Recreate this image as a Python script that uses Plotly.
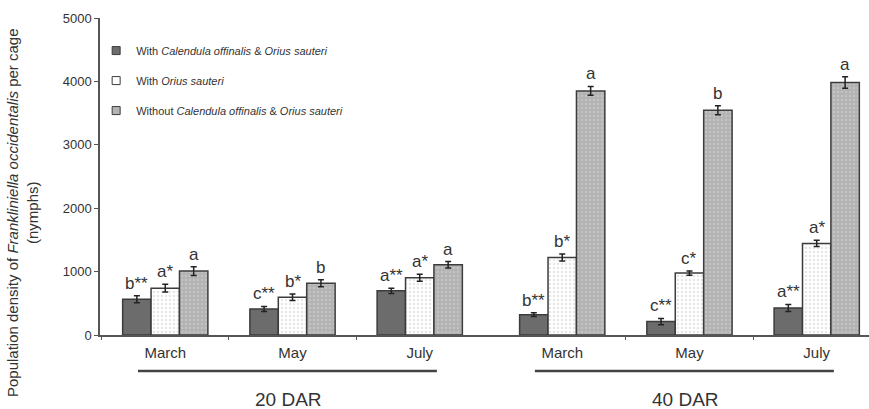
import plotly.graph_objects as go

# Sampling months within each DAR block
months = ["March", "May", "July", "March", "May", "July"]
blocks = ["20 DAR", "40 DAR"]

# Mean nymph counts per cage for each treatment
calendula_orius = [565, 411, 696, 321, 211, 427]
orius_only = [739, 596, 902, 1223, 976, 1445]
control = [1008, 818, 1108, 3850, 3544, 3982]

# Standard errors
err_calendula_orius = [55, 40, 40, 30, 50, 55]
err_orius_only = [60, 50, 55, 55, 35, 50]
err_control = [70, 55, 50, 70, 70, 90]

# Significance letters
lab_calendula_orius = ["b**", "c**", "a**", "b**", "c**", "a**"]
lab_orius_only = ["a*", "b*", "a*", "b*", "c*", "a*"]
lab_control = ["a", "b", "a", "a", "b", "a"]

legend_names = [
    "With <i>Calendula offinalis</i> &amp; <i>Orius sauteri</i>",
    "With <i>Orius sauteri</i>",
    "Without <i>Calendula offinalis</i> &amp; <i>Orius sauteri</i>",
]

FONT = "Liberation Sans, Arial, sans-serif"
TXT = "#333333"
EDGE = "#3c3c3c"

# x positions of the month groups: two blocks of three, with a small gap between blocks
block_gap = 0.12
xpos = [i + (block_gap if i >= 3 else 0) for i in range(len(months))]
bargap = 0.33
bar_w = (1 - bargap) / 3

series = [
    (calendula_orius, err_calendula_orius, lab_calendula_orius,
     dict(color="#6c6c6c", line=dict(color=EDGE, width=1.5))),
    (orius_only, err_orius_only, lab_orius_only,
     dict(color="#ffffff", line=dict(color=EDGE, width=1.5),
          pattern=dict(shape=".", bgcolor="#ffffff", fgcolor="#cfcfcf", size=4, solidity=0.35))),
    (control, err_control, lab_control,
     dict(color="#b4b4b4", line=dict(color=EDGE, width=1.5),
          pattern=dict(shape=".", bgcolor="#b2b2b2", fgcolor="#d2d2d2", size=4, solidity=0.35))),
]

fig = go.Figure()
for k, (vals, errs, labs, marker) in enumerate(series):
    fig.add_trace(go.Bar(
        x=xpos, y=vals, marker=marker, showlegend=False,
        error_y=dict(type="data", array=errs, color="#222222", thickness=1.5, width=3),
        hoverinfo="skip",
    ))
    off = (k - 1) * bar_w
    for xp, v, e, t in zip(xpos, vals, errs, labs):
        fig.add_annotation(
            x=xp + off, y=v + e, text=t, showarrow=False, yanchor="bottom",
            yshift=1, font=dict(family=FONT, size=17, color=TXT),
        )

# legend entries with small square keys
legend_markers = [
    dict(symbol="square", size=8, color="#6c6c6c", line=dict(color=EDGE, width=1)),
    dict(symbol="square", size=8, color="#ffffff", line=dict(color=EDGE, width=1)),
    dict(symbol="square", size=8, color="#b4b4b4", line=dict(color=EDGE, width=1)),
]
for k, (name, mk) in enumerate(zip(legend_names, legend_markers)):
    fig.add_trace(go.Scatter(
        x=[None], y=[None], mode="markers", marker=mk, name=name,
        legendgroup=f"g{k}", xaxis="x",
    ))

# block underlines and labels
first = [0, 3]
last = [2, 5]
for b, name in enumerate(blocks):
    x0 = xpos[first[b]] - 0.215
    x1 = xpos[last[b]] + 0.135
    fig.add_shape(type="line", xref="x", yref="paper", x0=x0, x1=x1,
                  y0=-0.1136, y1=-0.1136, line=dict(color="#444444", width=2.5))
    mid = xpos[first[b] + 1] - 0.03
    fig.add_annotation(x=mid, y=-0.202, xref="x", yref="paper", text=name,
                       xanchor="center", yanchor="middle",
                       showarrow=False, font=dict(family=FONT, size=19, color=TXT))

# axis title
fig.add_annotation(
    xref="paper", yref="paper", x=-0.1, y=0.385, textangle=-90,
    xanchor="center", yanchor="middle",
    text="Population density of <i>Frankliniella occidentalis</i> per cage<br>(nymphs)",
    showarrow=False, font=dict(family=FONT, size=15, color=TXT),
)

xrange = [-0.513, 5.531]
sep_ticks = [-0.5, 0.5, 1.5, xpos[3] + 0.5, xpos[4] + 0.5]

fig.update_layout(
    width=869, height=409,
    margin=dict(l=100, r=0, t=18, b=74),
    paper_bgcolor="white", plot_bgcolor="white",
    barmode="group", bargap=bargap, bargroupgap=0,
    font=dict(family=FONT, color=TXT),
    showlegend=True,
    legend=dict(x=-0.005, y=0.943, xanchor="left", yanchor="top",
                font=dict(family=FONT, size=11, color=TXT),
                tracegroupgap=11, bgcolor="rgba(0,0,0,0)"),
    xaxis=dict(
        range=xrange, tickvals=xpos, ticktext=months, ticks="",
        tickfont=dict(family=FONT, size=15, color=TXT),
        showline=True, linecolor="#555555", linewidth=1.5,
        showgrid=False, zeroline=False, ticklabelstandoff=3,
    ),
    xaxis2=dict(
        range=xrange, overlaying="x", side="bottom", anchor="y",
        tickvals=sep_ticks, showticklabels=False, ticks="outside",
        ticklen=4, tickwidth=1, tickcolor="#555555",
        showline=False, showgrid=False, zeroline=False,
    ),
    yaxis=dict(
        range=[0, 5000], dtick=1000, ticks="outside", ticklen=4,
        tickcolor="#555555", tickwidth=1,
        tickfont=dict(family=FONT, size=13, color=TXT),
        showline=True, linecolor="#555555", linewidth=1.5,
        showgrid=False, zeroline=False,
    ),
)
# invisible trace to activate the separator-tick axis
fig.add_trace(go.Scatter(x=[None], y=[None], xaxis="x2", showlegend=False, hoverinfo="skip"))

fig.write_html("out.html")
